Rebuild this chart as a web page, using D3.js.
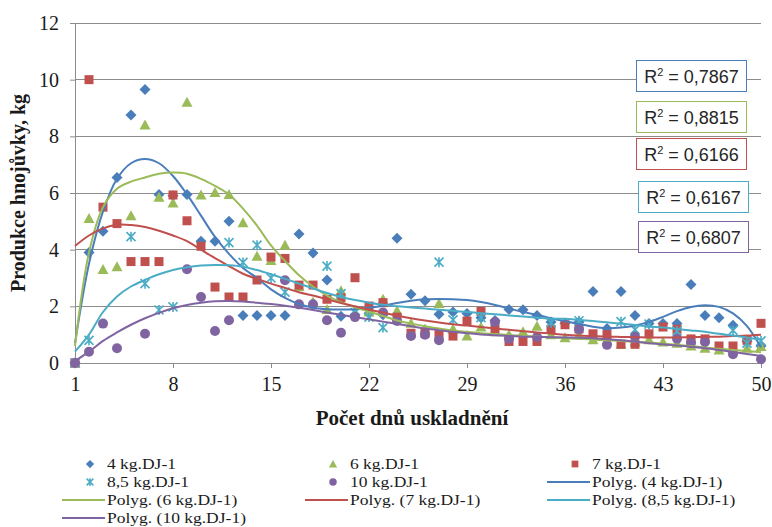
<!DOCTYPE html>
<html>
<head>
<meta charset="utf-8">
<script src="https://cdn.jsdelivr.net/npm/d3@7"></script>
<style>
  html, body { margin: 0; padding: 0; background: #fff; }
  svg { display: block; }
</style>
</head>
<body>
<svg id="chart" width="772" height="527"></svg>
<script>
// ---------- DATA ----------
const days = [1,2,3,4,5,6,7,8,9,10,11,12,13,14,15,16,17,18,19,20,21,22,23,24,25,26,27,28,29,30,31,32,33,34,35,36,37,38,39,40,41,42,43,44,45,46,47,48,49,50];

// null = no visible point on that day
const kg4  = [0,3.9,4.65,6.55,8.75,9.65,5.95,5.9,5.95,4.3,4.3,5.0,1.68,1.68,1.68,1.68,4.55,3.88,2.93,1.65,1.7,1.75,1.7,4.4,2.43,2.2,1.72,1.8,1.75,1.6,1.5,1.89,1.88,1.68,1.45,1.4,1.45,2.52,1.22,2.52,1.68,1.39,1.39,1.39,2.77,1.68,1.6,1.33,0.77,0.6];
const kg6  = [0,5.1,3.3,3.4,5.2,8.4,5.85,5.65,9.2,5.93,6.02,5.95,4.95,3.77,3.62,4.16,2.7,2.15,1.89,2.55,1.75,1.8,2.25,1.84,1.4,1.2,2.1,1.2,0.95,1.27,1.1,1.0,1.1,1.3,1.0,0.89,1.0,0.82,0.8,0.66,0.75,0.82,0.74,0.7,0.6,0.52,0.46,0.5,0.52,0.58];
const kg7  = [0,10.0,5.5,4.92,3.58,3.58,3.58,5.93,5.02,4.12,2.68,2.33,2.33,2.93,3.74,3.69,2.75,2.75,2.25,2.3,3.01,2.01,2.13,1.62,1.05,1.05,1.0,0.95,1.48,1.82,1.2,0.76,0.76,0.76,1.19,1.35,1.2,1.03,1.0,0.66,0.66,1.03,1.27,1.19,0.85,0.85,0.6,0.6,0.8,1.4];
const kg85 = [0,0.8,null,null,4.46,2.8,1.87,1.98,null,null,null,4.25,3.55,4.16,3.0,2.5,null,null,3.42,2.45,1.78,1.62,1.25,null,null,null,3.56,1.52,null,1.6,null,null,null,null,1.42,null,1.49,null,null,1.46,1.18,1.37,null,1.13,null,null,null,1.15,0.7,0.78];
const kg10 = [0,0.4,1.39,0.52,null,1.03,null,null,3.31,2.33,1.13,1.51,null,null,null,2.92,2.07,2.07,1.51,1.07,1.62,null,1.78,1.48,0.95,1.0,0.8,null,null,null,1.45,0.86,null,0.92,null,null,1.19,null,0.64,null,0.93,null,null,0.86,0.71,0.74,null,0.31,null,0.13];

// polynomial trend lines at each day
const trend4  = [0.7,3.5,5.35,6.5,7.05,7.2,7.05,6.6,5.95,5.2,4.45,3.85,3.35,3.0,2.6,2.3,2.08,1.95,1.9,1.89,1.9,1.95,2.02,2.12,2.2,2.25,2.26,2.25,2.22,2.15,2.05,1.92,1.8,1.7,1.58,1.47,1.38,1.28,1.23,1.25,1.32,1.45,1.63,1.83,1.98,2.04,1.98,1.75,1.3,0.55];
const trend6  = [0.6,3.9,5.5,6.15,6.4,6.55,6.68,6.72,6.68,6.5,6.25,5.95,5.45,4.85,4.15,3.6,3.1,2.7,2.38,2.15,1.97,1.82,1.66,1.5,1.39,1.3,1.22,1.15,1.1,1.05,1.02,0.99,0.96,0.93,0.9,0.87,0.85,0.83,0.8,0.78,0.75,0.72,0.68,0.64,0.6,0.55,0.5,0.46,0.42,0.38];
const trend7  = [4.13,4.5,4.75,4.88,4.87,4.8,4.67,4.5,4.3,4.0,3.7,3.42,3.15,2.97,2.8,2.65,2.5,2.38,2.25,2.12,2.0,1.88,1.78,1.67,1.58,1.5,1.43,1.37,1.32,1.27,1.22,1.17,1.12,1.08,1.04,1.0,0.97,0.95,0.93,0.92,0.91,0.9,0.9,0.9,0.91,0.92,0.93,0.95,0.97,1.0];
const trend85 = [0.4,1.0,1.8,2.35,2.7,2.93,3.13,3.28,3.38,3.44,3.46,3.45,3.4,3.28,3.13,2.97,2.8,2.63,2.47,2.33,2.22,2.13,2.06,2.0,1.96,1.92,1.88,1.84,1.8,1.76,1.72,1.68,1.64,1.6,1.56,1.56,1.52,1.48,1.44,1.39,1.34,1.29,1.25,1.2,1.15,1.1,1.03,0.97,0.9,0.82];
const trend10 = [0.07,0.4,0.78,1.08,1.35,1.58,1.77,1.93,2.05,2.13,2.18,2.19,2.17,2.13,2.08,2.02,1.95,1.87,1.78,1.7,1.62,1.54,1.46,1.38,1.3,1.22,1.16,1.1,1.05,1.01,0.98,0.95,0.93,0.92,0.91,0.9,0.89,0.87,0.84,0.8,0.75,0.7,0.66,0.62,0.57,0.52,0.46,0.39,0.32,0.25];

const seriesNames = ["4 kg.DJ-1","6 kg.DJ-1","7 kg.DJ-1","8,5 kg.DJ-1","10 kg.DJ-1"];
const trendNames  = ["Polyg. (4 kg.DJ-1)","Polyg. (6 kg.DJ-1)","Polyg. (7 kg.DJ-1)","Polyg. (8,5 kg.DJ-1)","Polyg. (10 kg.DJ-1)"];
const r2Values    = ["0,7867","0,8815","0,6166","0,6167","0,6807"];
const xTicks = [1,8,15,22,29,36,43,50];
const yTicks = [0,2,4,6,8,10,12];
const xTitle = "Počet dnů uskladnění";
const yTitle = "Produkce hnojůvky, kg";

(function () {
// ---------- STYLE ----------
const colors  = ["#4A7EBB","#9BBB59","#C0504D","#4BACC6","#8064A2"];
const shapes  = ["diamond","triangle","square","star","circle"];
const serif = "'Liberation Serif', 'Times New Roman', serif";
const sans  = "'Liberation Sans', Arial, sans-serif";

const svg = d3.select("#chart");
const pl = 75, pr = 761, pt = 23, pb = 363;

const x = d3.scaleLinear().domain([1, 50]).range([pl, pr]);
const y = d3.scaleLinear().domain([0, 12]).range([pb, pt]);

// gridlines
svg.append("g").selectAll("line").data(yTicks.filter(v => v > 0)).join("line")
  .attr("x1", pl).attr("x2", pr)
  .attr("y1", d => y(d)).attr("y2", d => y(d))
  .attr("stroke", "#8c8c8c").attr("stroke-width", 1).attr("shape-rendering", "crispEdges");

// y axis
const yAxis = svg.append("g").attr("transform", `translate(${pl},0)`)
  .call(d3.axisLeft(y).tickValues(yTicks).tickSize(5).tickPadding(11));
yAxis.select(".domain").attr("stroke", "#8c8c8c");
yAxis.selectAll(".tick line").attr("stroke", "#8c8c8c");
yAxis.selectAll("text").attr("font-family", serif).attr("font-size", 20).attr("fill", "#1a1a1a");

// x axis
const xAxis = svg.append("g").attr("transform", `translate(0,${pb})`)
  .call(d3.axisBottom(x).tickValues(xTicks).tickSize(5).tickPadding(9).tickSizeOuter(0));
xAxis.select(".domain").attr("stroke", "#8c8c8c");
xAxis.selectAll(".tick line").attr("stroke", "#8c8c8c");
xAxis.selectAll("text").attr("font-family", serif).attr("font-size", 20).attr("fill", "#1a1a1a");

// titles
svg.append("text").attr("x", 412).attr("y", 425).attr("text-anchor", "middle")
  .attr("font-family", serif).attr("font-weight", "bold").attr("font-size", 21).attr("fill", "#1a1a1a")
  .text(xTitle);
svg.append("text").attr("transform", "translate(25,193) rotate(-90)").attr("text-anchor", "middle")
  .attr("font-family", serif).attr("font-weight", "bold").attr("font-size", 20).attr("fill", "#1a1a1a")
  .text(yTitle);

// marker drawing
function drawMarker(g, shape, color, cx, cy, s) {
  s = s || 1;
  if (shape === "diamond") {
    const r = 5.5 * s;
    g.append("path").attr("d", `M${cx},${cy-r}L${cx+r},${cy}L${cx},${cy+r}L${cx-r},${cy}Z`).attr("fill", color);
  } else if (shape === "triangle") {
    g.append("path").attr("d", `M${cx},${cy-5.5*s}L${cx+5.5*s},${cy+4.5*s}L${cx-5.5*s},${cy+4.5*s}Z`).attr("fill", color);
  } else if (shape === "square") {
    g.append("rect").attr("x", cx-4.5*s).attr("y", cy-4.5*s).attr("width", 9*s).attr("height", 9*s).attr("fill", color);
  } else if (shape === "circle") {
    g.append("circle").attr("cx", cx).attr("cy", cy).attr("r", 5*s).attr("fill", color);
  } else if (shape === "star") {
    const r = 4.5 * s;
    g.append("path")
      .attr("d", `M${cx-r},${cy-r}L${cx+r},${cy+r}M${cx-r},${cy+r}L${cx+r},${cy-r}M${cx},${cy-r-0.5}L${cx},${cy+r+0.5}`)
      .attr("stroke", color).attr("stroke-width", 1.6).attr("fill", "none");
  }
}

const allSeries = [kg4, kg6, kg7, kg85, kg10];
const allTrends = [trend4, trend6, trend7, trend85, trend10];

const markG = svg.append("g");
allSeries.forEach((vals, i) => {
  const g = markG.append("g");
  vals.forEach((v, j) => { if (v !== null) drawMarker(g, shapes[i], colors[i], x(days[j]), y(v)); });
});

const line = d3.line().x((d, j) => x(days[j])).y(d => y(d)).curve(d3.curveCatmullRom.alpha(0.5));
allTrends.forEach((vals, i) => {
  svg.append("path").datum(vals).attr("d", line)
    .attr("fill", "none").attr("stroke", colors[i]).attr("stroke-width", 2);
});

// R² boxes
const boxes = [[636,60],[636,101],[636,138],[638,181],[638,221]];
r2Values.forEach((v, i) => {
  const g = svg.append("g").attr("transform", `translate(${boxes[i][0]},${boxes[i][1]})`);
  g.append("rect").attr("x", 0.5).attr("y", 0.5).attr("width", 110).attr("height", 31)
    .attr("fill", "#fff").attr("stroke", colors[i]).attr("stroke-width", 1);
  const t = g.append("text").attr("x", 55.5).attr("y", 23).attr("text-anchor", "middle")
    .attr("font-family", sans).attr("font-size", 18).attr("fill", "#262626");
  t.append("tspan").text("R");
  t.append("tspan").attr("font-size", 11).attr("dy", -7).text("2");
  t.append("tspan").attr("dy", 7).text(" = " + v);
});

// legend
const colX = [62, 305, 547];
const rowY = [464, 482, 500, 518];
const legendItems = [];
seriesNames.forEach((n, i) => legendItems.push({type: "marker", i, name: n}));
trendNames.forEach((n, i) => legendItems.push({type: "line", i, name: n}));
const lg = svg.append("g");
legendItems.forEach((it, k) => {
  const cx = colX[k % 3], cy = rowY[Math.floor(k / 3)];
  if (it.type === "marker") {
    drawMarker(lg, shapes[it.i], colors[it.i], cx + 28, cy, 0.75);
  } else {
    lg.append("line").attr("x1", cx).attr("x2", cx + 43).attr("y1", cy).attr("y2", cy)
      .attr("stroke", colors[it.i]).attr("stroke-width", 2);
  }
  lg.append("text").attr("transform", `translate(${cx + 45},${cy + 5}) scale(1.13,1)`)
    .attr("font-family", serif).attr("font-size", 15.5).attr("fill", "#1a1a1a")
    .text(it.name);
});
})();
</script>
</body>
</html>
